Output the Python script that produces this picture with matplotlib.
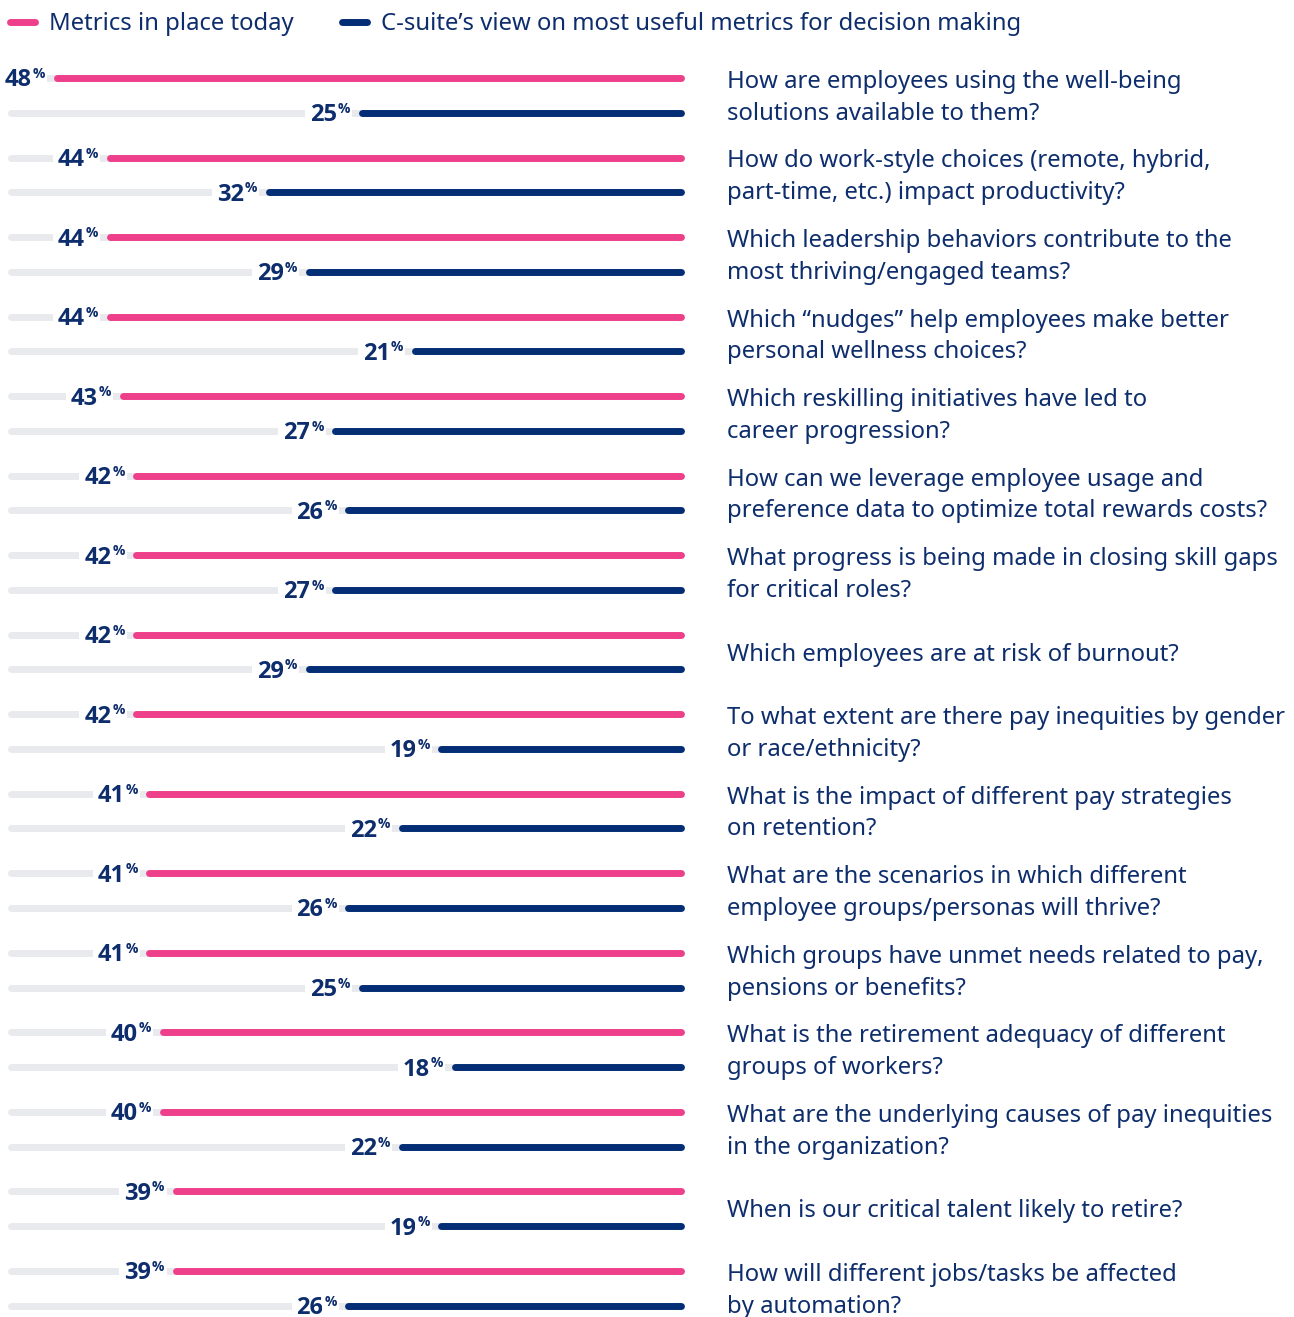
import matplotlib
matplotlib.use("Agg")
import matplotlib.pyplot as plt
from matplotlib.lines import Line2D

plt.rcParams["font.family"] = ["Noto Sans", "DejaVu Sans"]

# ---------------------------------------------------------------------------
# Datos
# ---------------------------------------------------------------------------
preguntas = [
    "How are employees using the well-being\nsolutions available to them?",
    "How do work-style choices (remote, hybrid,\npart-time, etc.) impact productivity?",
    "Which leadership behaviors contribute to the\nmost thriving/engaged teams?",
    "Which \u201cnudges\u201d help employees make better\npersonal wellness choices?",
    "Which reskilling initiatives have led to\ncareer progression?",
    "How can we leverage employee usage and\npreference data to optimize total rewards costs?",
    "What progress is being made in closing skill gaps\nfor critical roles?",
    "Which employees are at risk of burnout?",
    "To what extent are there pay inequities by gender\nor race/ethnicity?",
    "What is the impact of different pay strategies\non retention?",
    "What are the scenarios in which different\nemployee groups/personas will thrive?",
    "Which groups have unmet needs related to pay,\npensions or benefits?",
    "What is the retirement adequacy of different\ngroups of workers?",
    "What are the underlying causes of pay inequities\nin the organization?",
    "When is our critical talent likely to retire?",
    "How will different jobs/tasks be affected\nby automation?",
]
en_uso_hoy = [48, 44, 44, 44, 43, 42, 42, 42, 42, 41, 41, 41, 40, 40, 39, 39]
vista_csuite = [25, 32, 29, 21, 27, 26, 27, 29, 19, 22, 26, 25, 18, 22, 19, 26]

leyenda = ["Metrics in place today",
           "C-suite\u2019s view on most useful metrics for decision making"]

ROSA = "#EE3F8A"
AZUL = "#032D74"
TEXTO = "#0D2D6C"
GRIS = "#E9EAEE"
FUENTE_NUM = ["Open Sans", "Roboto", "DejaVu Sans"]

# ---------------------------------------------------------------------------
# Figura
# ---------------------------------------------------------------------------
W, H = 1294, 1317
fig = plt.figure(figsize=(W / 100, H / 100), dpi=100)

x_izq, x_cero = 10.5, 693.5         # pixeles: extremo gris izquierdo / valor 0
x_fin = 681.5                       # pixel donde terminan las barras a la derecha
paso = 79.53                        # pixeles entre preguntas
y0 = 78                             # primera barra rosa
sep = 0.436                         # separacion rosa -> azul (en filas)

ax = fig.add_axes([x_izq / W, 0, (x_cero - x_izq) / W, 1])
escala = 13.27                      # pixeles por punto porcentual
ax.set_xlim((x_cero - x_izq) / escala, 0)
ax.set_ylim((H - y0) / paso, -y0 / paso)
ax.axis("off")
xmax = ax.get_xlim()[0]
fin = (x_cero - x_fin) / escala

lw = 5.0
caja = dict(boxstyle="square,pad=0.2", fc="white", ec="none")


def barra(v, y, color):
    ax.plot([v, xmax], [y, y], color=GRIS, lw=lw, solid_capstyle="round",
            zorder=1, clip_on=False)
    ax.plot([fin, v], [y, y], color=color, lw=lw, solid_capstyle="round",
            zorder=2, clip_on=False)
    # numero en negrita + simbolo % pequeno como superindice
    ax.annotate(str(v), xy=(v, y), xytext=(-18, -6.1), textcoords="offset points",
                ha="right", va="baseline", fontsize=17, fontweight="bold",
                family=FUENTE_NUM, color=TEXTO, zorder=3, bbox=caja)
    ax.annotate("%", xy=(v, y), xytext=(-8.3, 0), textcoords="offset points",
                ha="right", va="baseline", fontsize=10, fontweight="bold",
                family=FUENTE_NUM, color=TEXTO, zorder=4,
                bbox=dict(boxstyle="square,pad=0.15", fc="white", ec="none"))


for i, (p, a, b) in enumerate(zip(preguntas, en_uso_hoy, vista_csuite)):
    barra(a, i, ROSA)
    barra(b, i + sep, AZUL)
    ax.text(727 / W, 1 - (y0 + 2.5 + (i + sep / 2) * paso) / H, p,
            transform=fig.transFigure, ha="left", va="center",
            fontsize=17.2, color=TEXTO, linespacing=1.43)

# Leyenda
for x_linea, x_txt, color, etiqueta in [(10, 49, ROSA, leyenda[0]),
                                        (342, 381, AZUL, leyenda[1])]:
    fig.add_artist(Line2D([x_linea / W, (x_linea + 25) / W], [1 - 22 / H] * 2,
                          color=color, lw=lw, solid_capstyle="round"))
    fig.text(x_txt / W, 1 - 23.5 / H, etiqueta, ha="left", va="center",
             fontsize=17.2, color=TEXTO)

plt.savefig("out.png", dpi=100)
